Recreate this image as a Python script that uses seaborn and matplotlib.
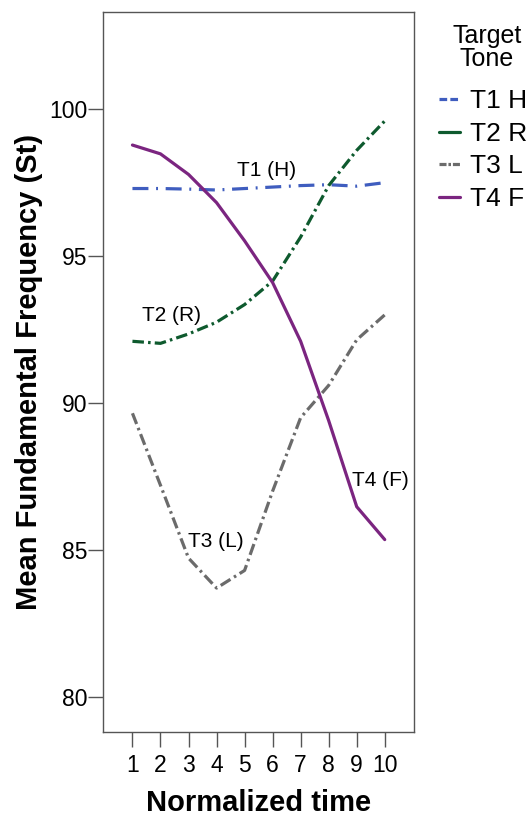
import pandas as pd
import matplotlib.pyplot as plt
import seaborn as sns
from matplotlib.lines import Line2D

# valores (semitons)
time_points = [1, 2, 3, 4, 5, 6, 7, 8, 9, 10]
t1_high = [97.3, 97.3, 97.28, 97.25, 97.3, 97.35, 97.4, 97.43, 97.38, 97.5]
t2_rising = [92.1, 92.03, 92.35, 92.75, 93.35, 94.15, 95.65, 97.4, 98.6, 99.6]
t3_low = [89.65, 87.2, 84.72, 83.7, 84.3, 87.0, 89.5, 90.6, 92.15, 93.0]
t4_falling = [98.78, 98.48, 97.78, 96.82, 95.52, 94.1, 92.1, 89.4, 86.47, 85.35]

tone_names = ["T1 H", "T2 R", "T3 L", "T4 F"]
tone_labels = ["T1 (H)", "T2 (R)", "T3 (L)", "T4 (F)"]

df = pd.DataFrame({
    "time": time_points * 4,
    "f0": t1_high + t2_rising + t3_low + t4_falling,
    "tone": [t for t in tone_names for _ in time_points],
})

sns.set_style("ticks")
plt.rcParams["font.family"] = ["Liberation Sans", "DejaVu Sans"]
plt.rcParams["text.color"] = "black"
plt.rcParams["axes.labelcolor"] = "black"

colors = {"T1 H": "#3f5dbf", "T2 R": "#0e5a2e", "T3 L": "#6b6b6b", "T4 F": "#7b2580"}
dashes = {"T1 H": (5.0, 2.4, 0.6, 2.4), "T2 R": (3.6, 1.3, 0.8, 1.3),
          "T3 L": (3.6, 1.3, 0.8, 1.3), "T4 F": ""}

fig = plt.figure(figsize=(5.31, 8.17), dpi=100)
ax = fig.add_axes([0.194, 0.104, 0.586, 0.881])

for tone in tone_names:
    sub = df[df["tone"] == tone]
    line_ax = sns.lineplot(data=sub, x="time", y="f0", ax=ax, color=colors[tone],
                           linewidth=2.3, legend=False)
    ln = line_ax.get_lines()[-1]
    if dashes[tone]:
        ln.set_dashes(dashes[tone])

# rótulos dentro do gráfico
ax.text(5.77, 97.9, tone_labels[0], ha="center", va="center", fontsize=15)
ax.text(2.4, 92.97, tone_labels[1], ha="center", va="center", fontsize=15)
ax.text(3.97, 85.3, tone_labels[2], ha="center", va="center", fontsize=15)
ax.text(9.85, 87.37, tone_labels[3], ha="center", va="center", fontsize=15)

ax.set_xlim(-0.05, 11.05)
ax.set_ylim(78.8, 103.3)
ax.set_xticks(time_points)
ax.set_yticks([80, 85, 90, 95, 100])
ax.tick_params(axis="both", labelsize=16.5, labelcolor="black", length=10.5, width=1, color="#555555")
ax.tick_params(axis="x", pad=5)
ax.tick_params(axis="y", pad=1)
for sp in ax.spines.values():
    sp.set_color("#555555")
    sp.set_linewidth(1)

ax.set_xlabel("Normalized time", fontsize=21, fontweight="bold", labelpad=9)
ax.set_ylabel("Mean Fundamental Frequency (St)", fontsize=21, fontweight="bold", labelpad=4)

# título da legenda separado para controlar o espaçamento
fig.text(487 / 531, 1 - 24 / 817, "Target\nTone", ha="center", va="top",
         fontsize=18, linespacing=0.95)

handles = [
    Line2D([0], [0], color=colors["T1 H"], linewidth=2.3, dashes=(2.4, 1.0)),
    Line2D([0], [0], color=colors["T2 R"], linewidth=2.3),
    Line2D([0], [0], color=colors["T3 L"], linewidth=2.3, dashes=(2.2, 0.6, 0.8, 0.6)),
    Line2D([0], [0], color=colors["T4 F"], linewidth=2.3),
]
fig.legend(handles, tone_names, loc="upper left", bbox_to_anchor=(0.826, 0.891),
           fontsize=19, frameon=False,
           handlelength=0.8, handletextpad=0.4, labelspacing=0.33,
           borderaxespad=0, borderpad=0)

fig.savefig("out.png", dpi=100)
